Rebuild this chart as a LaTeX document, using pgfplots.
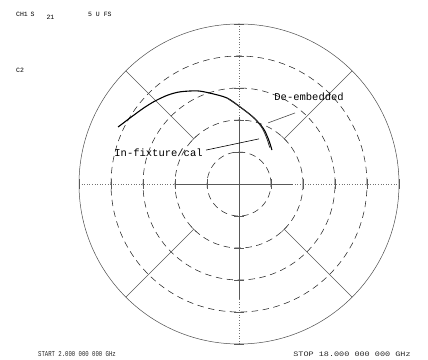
\documentclass[border=0pt]{standalone}
\usepackage{fontspec}
\usepackage{pgfplots}
\pgfplotsset{compat=1.18}
\newfontfamily\mono{Liberation Mono}

% S21 polar display, 5 U full scale: 1 division = 1 U = 32pt
\begin{document}
\begin{tikzpicture}
\begin{axis}[
  hide axis, scale only axis,
  width=428pt, height=360pt,
  xmin=-7.46875, xmax=5.90625, ymin=-5.5, ymax=5.75,
  clip=false,
]
\path (rel axis cs:0,0) rectangle (rel axis cs:1,1);

% graticule
\draw[black!70, line width=0.5pt] (axis cs:0,0) circle[radius=5];
\pgfplotsinvokeforeach{1,2,3,4}{
  \draw[black!85, line width=0.55pt, dash pattern=on 6.5pt off 4.5pt] (axis cs:0,0) circle[radius=#1];
}
\draw[black!55, line width=0.6pt, dotted] (axis cs:-5,0) -- (axis cs:5,0);
\draw[black!55, line width=0.6pt, dotted] (axis cs:0,-5) -- (axis cs:0,5);
\draw[black!65, line width=0.6pt] (axis cs:-2,0) -- (axis cs:1.7,0);
\draw[black!65, line width=0.6pt] (axis cs:0,2.1) -- (axis cs:0,-3.6);
\pgfplotsinvokeforeach{-5,-4,-3,-2,-1,1,2,3,4,5}{
  \draw[black!65, line width=0.5pt] (axis cs:#1,-0.15) -- (axis cs:#1,0.15);
  \draw[black!65, line width=0.5pt] (axis cs:-0.15,#1) -- (axis cs:0.15,#1);
}
% radial segments at 45 degree intervals, 2 U to 5 U
\pgfplotsinvokeforeach{1,-1}{
  \draw[black!65, line width=0.55pt] (axis cs:{1.4142*#1},1.4142) -- (axis cs:{3.5355*#1},3.5355);
  \draw[black!65, line width=0.55pt] (axis cs:{1.4142*#1},-1.4142) -- (axis cs:{3.5355*#1},-3.5355);
  \draw[black!65, line width=0.55pt] (axis cs:{(1.4142-0.09)*#1},1.5042) -- (axis cs:{(1.4142+0.09)*#1},1.3242);
  \draw[black!65, line width=0.55pt] (axis cs:{(1.4142-0.09)*#1},-1.5042) -- (axis cs:{(1.4142+0.09)*#1},-1.3242);
}

% In-fixture/cal trace
\addplot[black, line width=1.1pt, smooth] coordinates {
  (-3.78,1.78) (-3.41,2.06) (-3.00,2.36) (-2.63,2.59) (-2.22,2.78)
  (-1.84,2.88) (-1.31,2.91) (-0.91,2.84) (-0.38,2.69) (0.03,2.41)
  (0.44,2.09) (0.75,1.75) (0.92,1.40) (1.03,1.06)
};
% De-embedded trace
\addplot[black!80, line width=0.8pt, smooth] coordinates {
  (-0.38,2.69) (0.03,2.41)
  (0.44,2.09) (0.72,1.75) (0.87,1.42) (0.96,1.14)
};

% annotations
\draw[black!70, line width=0.6pt] (axis cs:1.75,2.22) -- (axis cs:0.91,1.91);
\draw[black, line width=0.6pt] (axis cs:-1.03,1.06) -- (axis cs:0.625,1.41);
\node[anchor=west, inner sep=0pt, font=\mono\fontsize{10.5}{12}\selectfont] at (axis cs:1.1,2.72) {De-embedded};
\node[anchor=west, inner sep=0pt, font=\mono\fontsize{10.5}{12}\selectfont] at (axis cs:-3.9,0.97) {In-fixture/cal};

% header and footer
\node[anchor=west, inner sep=0pt, font=\mono\fontsize{6.5}{8}\selectfont] at (axis cs:-6.97,5.31) {CH1};
\node[anchor=west, inner sep=0pt, font=\mono\fontsize{6.5}{8}\selectfont] at (axis cs:-6.52,5.31) {S};
\node[anchor=west, inner sep=0pt, font=\mono\fontsize{6.5}{8}\selectfont] at (axis cs:-6.02,5.20) {21};
\node[anchor=west, inner sep=0pt, font=\mono\fontsize{6.5}{8}\selectfont] at (axis cs:-4.72,5.31) {5 U FS};
\node[anchor=west, inner sep=0pt, font=\mono\fontsize{6.5}{8}\selectfont] at (axis cs:-6.97,3.56) {C2};
\node[anchor=west, inner sep=0pt, xscale=0.75, text=black!85, font=\mono\fontsize{7.5}{9}\selectfont] at (axis cs:-6.28,-5.31) {START  2.000 000 000 GHz};
\node[anchor=west, inner sep=0pt, xscale=1.25, text=black!85, font=\mono\fontsize{6.8}{8}\selectfont] at (axis cs:1.69,-5.31) {STOP 18.000 000 000 GHz};
\end{axis}
\end{tikzpicture}
\end{document}
